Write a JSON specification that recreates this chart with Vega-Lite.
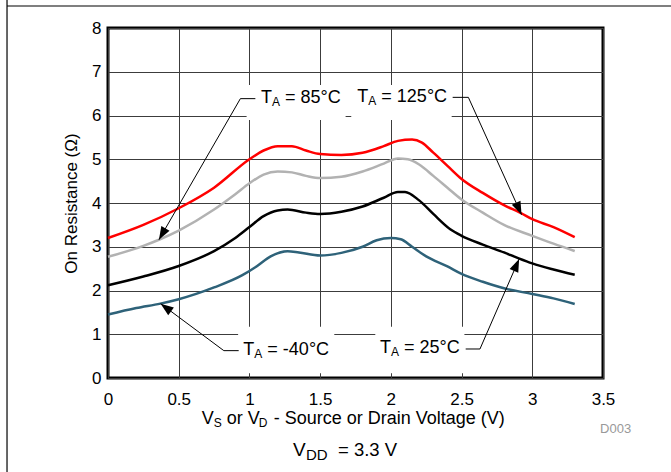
{
  "$schema": "https://vega.github.io/schema/vega-lite/v6.json",
  "width": 495,
  "height": 350,
  "autosize": {"type": "none"},
  "padding": {"left": 108, "top": 28, "right": 68, "bottom": 94},
  "background": "white",
  "config": {
    "font": "Liberation Sans",
    "view": {"stroke": "#000000", "strokeWidth": 3},
    "axis": {
      "domain": false,
      "ticks": false,
      "grid": true,
      "gridColor": "#3c3c3c",
      "gridWidth": 1,
      "gridOpacity": 1,
      "labelFlush": false,
      "labelOverlap": false,
      "labelFontSize": 17,
      "labelColor": "#000000",
      "labelFont": "Liberation Sans",
      "titleFont": "Liberation Sans",
      "titleFontSize": 17,
      "titleFontWeight": "normal",
      "titleColor": "#000000"
    },
    "text": {"font": "Liberation Sans", "color": "#000000"}
  },
  "datasets": {
    "curves": [
      {"series": "125", "x": 0, "y": 3.2}, {"series": "125", "x": 0.25, "y": 3.5}, {"series": "125", "x": 0.5, "y": 3.88}, {"series": "125", "x": 0.75, "y": 4.35}, {"series": "125", "x": 1.0, "y": 5.0}, {"series": "125", "x": 1.1, "y": 5.2}, {"series": "125", "x": 1.2, "y": 5.3}, {"series": "125", "x": 1.3, "y": 5.3}, {"series": "125", "x": 1.4, "y": 5.2}, {"series": "125", "x": 1.5, "y": 5.12}, {"series": "125", "x": 1.65, "y": 5.1}, {"series": "125", "x": 1.8, "y": 5.15}, {"series": "125", "x": 1.95, "y": 5.3}, {"series": "125", "x": 2.05, "y": 5.42}, {"series": "125", "x": 2.15, "y": 5.45}, {"series": "125", "x": 2.22, "y": 5.38}, {"series": "125", "x": 2.3, "y": 5.15}, {"series": "125", "x": 2.4, "y": 4.85}, {"series": "125", "x": 2.5, "y": 4.55}, {"series": "125", "x": 2.65, "y": 4.23}, {"series": "125", "x": 2.8, "y": 3.95}, {"series": "125", "x": 2.92, "y": 3.77}, {"series": "125", "x": 3.0, "y": 3.63}, {"series": "125", "x": 3.15, "y": 3.45}, {"series": "125", "x": 3.3, "y": 3.22},
      {"series": "85", "x": 0, "y": 2.77}, {"series": "85", "x": 0.25, "y": 3.02}, {"series": "85", "x": 0.36, "y": 3.16}, {"series": "85", "x": 0.5, "y": 3.37}, {"series": "85", "x": 0.75, "y": 3.85}, {"series": "85", "x": 0.9, "y": 4.2}, {"series": "85", "x": 1.0, "y": 4.45}, {"series": "85", "x": 1.1, "y": 4.65}, {"series": "85", "x": 1.2, "y": 4.72}, {"series": "85", "x": 1.3, "y": 4.7}, {"series": "85", "x": 1.4, "y": 4.62}, {"series": "85", "x": 1.5, "y": 4.57}, {"series": "85", "x": 1.65, "y": 4.6}, {"series": "85", "x": 1.8, "y": 4.72}, {"series": "85", "x": 1.95, "y": 4.9}, {"series": "85", "x": 2.05, "y": 5.02}, {"series": "85", "x": 2.12, "y": 5.0}, {"series": "85", "x": 2.2, "y": 4.88}, {"series": "85", "x": 2.3, "y": 4.62}, {"series": "85", "x": 2.4, "y": 4.35}, {"series": "85", "x": 2.5, "y": 4.08}, {"series": "85", "x": 2.65, "y": 3.78}, {"series": "85", "x": 2.8, "y": 3.5}, {"series": "85", "x": 3.0, "y": 3.25}, {"series": "85", "x": 3.15, "y": 3.07}, {"series": "85", "x": 3.3, "y": 2.9},
      {"series": "25", "x": 0, "y": 2.12}, {"series": "25", "x": 0.25, "y": 2.32}, {"series": "25", "x": 0.5, "y": 2.56}, {"series": "25", "x": 0.75, "y": 2.9}, {"series": "25", "x": 0.9, "y": 3.2}, {"series": "25", "x": 1.0, "y": 3.45}, {"series": "25", "x": 1.1, "y": 3.7}, {"series": "25", "x": 1.2, "y": 3.83}, {"series": "25", "x": 1.27, "y": 3.85}, {"series": "25", "x": 1.4, "y": 3.78}, {"series": "25", "x": 1.5, "y": 3.75}, {"series": "25", "x": 1.65, "y": 3.8}, {"series": "25", "x": 1.8, "y": 3.92}, {"series": "25", "x": 1.95, "y": 4.12}, {"series": "25", "x": 2.05, "y": 4.25}, {"series": "25", "x": 2.1, "y": 4.25}, {"series": "25", "x": 2.2, "y": 4.06}, {"series": "25", "x": 2.3, "y": 3.75}, {"series": "25", "x": 2.42, "y": 3.4}, {"series": "25", "x": 2.5, "y": 3.25}, {"series": "25", "x": 2.65, "y": 3.05}, {"series": "25", "x": 2.8, "y": 2.87}, {"series": "25", "x": 2.9, "y": 2.74}, {"series": "25", "x": 3.0, "y": 2.62}, {"series": "25", "x": 3.15, "y": 2.48}, {"series": "25", "x": 3.3, "y": 2.36},
      {"series": "-40", "x": 0, "y": 1.45}, {"series": "-40", "x": 0.2, "y": 1.6}, {"series": "-40", "x": 0.37, "y": 1.7}, {"series": "-40", "x": 0.5, "y": 1.8}, {"series": "-40", "x": 0.75, "y": 2.07}, {"series": "-40", "x": 0.95, "y": 2.35}, {"series": "-40", "x": 1.05, "y": 2.55}, {"series": "-40", "x": 1.15, "y": 2.78}, {"series": "-40", "x": 1.27, "y": 2.9}, {"series": "-40", "x": 1.35, "y": 2.87}, {"series": "-40", "x": 1.5, "y": 2.8}, {"series": "-40", "x": 1.65, "y": 2.86}, {"series": "-40", "x": 1.8, "y": 3.0}, {"series": "-40", "x": 1.9, "y": 3.15}, {"series": "-40", "x": 2.0, "y": 3.2}, {"series": "-40", "x": 2.07, "y": 3.17}, {"series": "-40", "x": 2.15, "y": 3.0}, {"series": "-40", "x": 2.25, "y": 2.78}, {"series": "-40", "x": 2.4, "y": 2.55}, {"series": "-40", "x": 2.5, "y": 2.38}, {"series": "-40", "x": 2.65, "y": 2.2}, {"series": "-40", "x": 2.8, "y": 2.05}, {"series": "-40", "x": 3.0, "y": 1.92}, {"series": "-40", "x": 3.15, "y": 1.82}, {"series": "-40", "x": 3.3, "y": 1.69}
    ],
    "arrows": [
      {"arrow": "a85", "i": 0, "x": 1.042, "y": 6.385}, {"arrow": "a85", "i": 1, "x": 0.936, "y": 6.385}, {"arrow": "a85", "i": 2, "x": 0.36, "y": 3.16},
      {"arrow": "a125", "i": 0, "x": 2.437, "y": 6.415}, {"arrow": "a125", "i": 1, "x": 2.548, "y": 6.415}, {"arrow": "a125", "i": 2, "x": 2.924, "y": 3.733},
      {"arrow": "a40", "i": 0, "x": 0.924, "y": 0.625}, {"arrow": "a40", "i": 1, "x": 0.819, "y": 0.625}, {"arrow": "a40", "i": 2, "x": 0.372, "y": 1.7},
      {"arrow": "a25", "i": 0, "x": 2.529, "y": 0.663}, {"arrow": "a25", "i": 1, "x": 2.63, "y": 0.663}, {"arrow": "a25", "i": 2, "x": 2.907, "y": 2.72}
    ],
    "boxes": [
      {"box": "b85", "x": 0.98, "x2": 1.68, "y": 5.9, "y2": 6.7},
      {"box": "b125", "x": 1.72, "x2": 2.43, "y": 5.9, "y2": 6.7},
      {"box": "b40", "x": 0.92, "x2": 1.6, "y": 0.11, "y2": 1.17},
      {"box": "b25", "x": 1.89, "x2": 2.52, "y": 0.11, "y2": 1.17}
    ],
    "labels": [
      {"label": "85", "x": 1.082, "y": 6.39, "rest": "= 85°C"},
      {"label": "125", "x": 1.763, "y": 6.415, "rest": "= 125°C"},
      {"label": "-40", "x": 0.957, "y": 0.64, "rest": "= -40°C"},
      {"label": "25", "x": 1.923, "y": 0.68, "rest": "= 25°C"}
    ],
    "frame": [
      {"side": "left", "x": -0.714, "x2": -0.714, "y": 8.7, "y2": -2.2},
      {"side": "top", "x": -0.714, "x2": 4.0, "y": 8.503, "y2": 8.503}
    ]
  },
  "encoding": {
    "x": {
      "field": "x",
      "type": "quantitative",
      "scale": {"domain": [0, 3.5], "nice": false},
      "axis": {"values": [0, 0.5, 1, 1.5, 2, 2.5, 3, 3.5], "format": "~g", "labelPadding": 13, "title": null}
    },
    "y": {
      "field": "y",
      "type": "quantitative",
      "scale": {"domain": [0, 8], "nice": false},
      "axis": {"values": [0, 1, 2, 3, 4, 5, 6, 7, 8], "format": "d", "labelPadding": 7, "title": "On Resistance (Ω)", "titlePadding": 11}
    }
  },
  "layer": [
    {
      "data": {"name": "frame"},
      "mark": {"type": "rule", "color": "#000000", "strokeWidth": 1.2},
      "encoding": {"x2": {"field": "x2"}, "y2": {"field": "y2"}}
    },
    {
      "data": {"name": "boxes"},
      "mark": {"type": "rect", "fill": "#ffffff", "stroke": null},
      "encoding": {"x2": {"field": "x2"}, "y2": {"field": "y2"}}
    },
    {
      "data": {"name": "curves"},
      "mark": {"type": "line", "strokeWidth": 2.5, "interpolate": "monotone"},
      "encoding": {
        "color": {
          "field": "series",
          "type": "nominal",
          "scale": {"domain": ["125", "85", "25", "-40"], "range": ["#ff0000", "#b2b2b2", "#000000", "#2e6279"]},
          "legend": null
        }
      }
    },
    {
      "data": {"name": "arrows"},
      "mark": {"type": "line", "color": "#000000", "strokeWidth": 1},
      "encoding": {"detail": {"field": "arrow"}, "order": {"field": "i", "type": "quantitative"}}
    },
    {
      "data": {"name": "arrows"},
      "transform": [{"filter": "datum.i == 2 && datum.arrow == 'a85'"}],
      "mark": {"type": "point", "shape": "M0,0L-0.4,1.1L0.4,1.1Z", "filled": true, "color": "#000000", "opacity": 1, "size": 560, "angle": 210, "strokeWidth": 0}
    },
    {
      "data": {"name": "arrows"},
      "transform": [{"filter": "datum.i == 2 && datum.arrow == 'a125'"}],
      "mark": {"type": "point", "shape": "M0,0L-0.4,1.1L0.4,1.1Z", "filled": true, "color": "#000000", "opacity": 1, "size": 560, "angle": 155.6, "strokeWidth": 0}
    },
    {
      "data": {"name": "arrows"},
      "transform": [{"filter": "datum.i == 2 && datum.arrow == 'a40'"}],
      "mark": {"type": "point", "shape": "M0,0L-0.4,1.1L0.4,1.1Z", "filled": true, "color": "#000000", "opacity": 1, "size": 560, "angle": 306.6, "strokeWidth": 0}
    },
    {
      "data": {"name": "arrows"},
      "transform": [{"filter": "datum.i == 2 && datum.arrow == 'a25'"}],
      "mark": {"type": "point", "shape": "M0,0L-0.4,1.1L0.4,1.1Z", "filled": true, "color": "#000000", "opacity": 1, "size": 560, "angle": 23.5, "strokeWidth": 0}
    },
    {
      "data": {"name": "labels"},
      "mark": {"type": "text", "text": "T", "align": "left", "baseline": "middle", "fontSize": 18}
    },
    {
      "data": {"name": "labels"},
      "mark": {"type": "text", "text": "A", "align": "left", "baseline": "middle", "fontSize": 12, "dx": 11, "dy": 4}
    },
    {
      "data": {"name": "labels"},
      "mark": {"type": "text", "align": "left", "baseline": "middle", "fontSize": 18, "dx": 24},
      "encoding": {"text": {"field": "rest"}}
    },
    {
      "data": {"values": [{"x": 0.6625, "y": -0.937}]},
      "mark": {"type": "text", "text": "V", "align": "left", "baseline": "middle", "fontSize": 18}
    },
    {
      "data": {"values": [{"x": 0.6625, "y": -0.937}]},
      "mark": {"type": "text", "text": "S", "align": "left", "baseline": "middle", "fontSize": 12, "dx": 12, "dy": 4}
    },
    {
      "data": {"values": [{"x": 0.6625, "y": -0.937}]},
      "mark": {"type": "text", "text": "or V", "align": "left", "baseline": "middle", "fontSize": 18, "dx": 25}
    },
    {
      "data": {"values": [{"x": 0.6625, "y": -0.937}]},
      "mark": {"type": "text", "text": "D", "align": "left", "baseline": "middle", "fontSize": 12, "dx": 57, "dy": 4}
    },
    {
      "data": {"values": [{"x": 0.6625, "y": -0.937}]},
      "mark": {"type": "text", "text": "- Source or Drain Voltage (V)", "align": "left", "baseline": "middle", "fontSize": 18, "dx": 72}
    },
    {
      "data": {"values": [{"x": 1.308, "y": -1.657}]},
      "mark": {"type": "text", "text": "V", "align": "left", "baseline": "middle", "fontSize": 19}
    },
    {
      "data": {"values": [{"x": 1.308, "y": -1.657}]},
      "mark": {"type": "text", "text": "DD", "align": "left", "baseline": "middle", "fontSize": 15, "dx": 13, "dy": 5}
    },
    {
      "data": {"values": [{"x": 1.308, "y": -1.657}]},
      "mark": {"type": "text", "text": "= 3.3 V", "align": "left", "baseline": "middle", "fontSize": 18.5, "dx": 45}
    },
    {
      "data": {"values": [{"x": 3.479, "y": -1.177}]},
      "mark": {"type": "text", "text": "D003", "align": "left", "baseline": "middle", "fontSize": 13, "color": "#999999"}
    }
  ]
}
